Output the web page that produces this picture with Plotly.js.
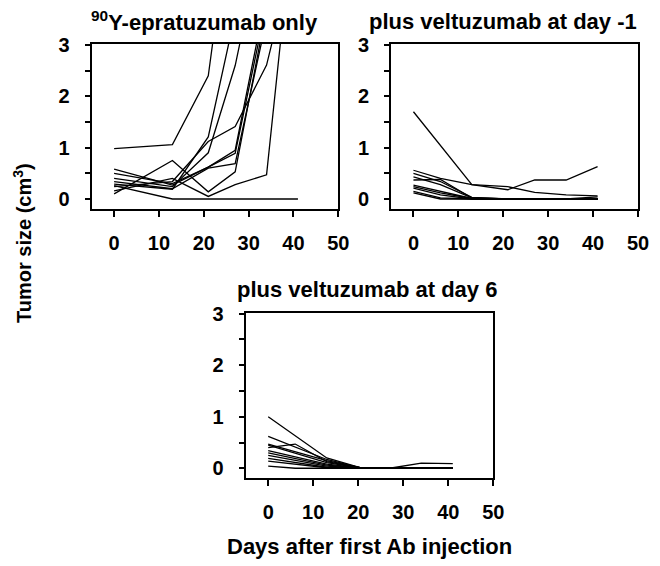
<!DOCTYPE html>
<html>
<head>
<meta charset="utf-8">
<script src="https://cdn.plot.ly/plotly-3.0.1.min.js"></script>
<style>html,body{margin:0;padding:0;background:#fff;}#chart{width:660px;height:566px;}</style>
</head>
<body>
<div id="chart"></div>
<script>
// ---- data ----
const panelTitles = ["<sup>90</sup>Y-epratuzumab only", "plus veltuzumab at day -1", "plus veltuzumab at day 6"];
const yAxisTitle = "Tumor size (cm<sup>3</sup>)";
const xAxisTitle = "Days after first Ab injection";
const xTickVals = [0, 10, 20, 30, 40, 50];
const yTickVals = [0, 1, 2, 3];
const yMinorTickVals = [0.5, 1.5, 2.5];

// days of measurement
const daysEpraOnly = [0, 13, 21, 27, 34, 41];
const daysVeltu = [0, 6, 13, 21, 27, 34, 41];

// tumor sizes (cm3) per mouse, 90Y-epratuzumab only
const epraOnly = [
  [0.98, 1.06, 2.40, 6.3, null, null],
  [0.29, 0.19, 1.21, 3.6, null, null],
  [0.40, 0.24, 0.90, 2.6, 5.5, null],
  [0.24, 0.34, 1.12, 1.41, 2.61, 5.1],
  [0.58, 0.27, 0.62, 0.89, 3.8, null],
  [0.34, 0.20, 0.60, 0.69, 3.5, null],
  [0.10, 0.75, 0.14, 0.53, 3.7, null],
  [0.16, 0.40, 0.05, 0.28, 0.47, 6.3],
  [0.26, 0.00, 0.00, 0.00, 0.00, 0.00],
  [0.50, 0.30, 0.62, 0.95, 4.0, null]
];

// plus veltuzumab at day -1
const veltuDayMinus1 = [
  [1.70, null, 0.28, 0.18, 0.37, 0.37, 0.63],
  [0.56, 0.40, 0.28, 0.24, 0.13, 0.08, 0.06],
  [0.50, 0.34, 0.03, 0, 0, 0, 0],
  [0.43, 0.28, 0.02, 0, 0, 0, 0.04],
  [0.37, 0.38, 0.02, 0, 0, 0, 0],
  [0.27, 0.15, 0.01, 0, 0, 0, 0],
  [0.24, 0.12, 0.01, 0, 0, 0, 0],
  [0.21, 0.08, 0.00, 0, 0, 0, 0],
  [0.15, 0.02, 0.00, 0, 0, 0, 0],
  [0.12, 0.00, 0.00, 0, 0, 0, 0]
];

// plus veltuzumab at day 6
const veltuDay6 = [
  [1.00, null, 0.20, 0, 0, 0, 0],
  [0.62, null, 0.17, 0, 0, 0.10, 0.09],
  [0.47, null, 0.15, 0, 0, 0, 0],
  [0.40, 0.47, 0.13, 0, 0, 0, 0],
  [0.45, null, 0.11, 0, 0, 0, 0],
  [0.34, null, 0.08, 0, 0, 0, 0],
  [0.30, null, 0.06, 0, 0, 0, 0],
  [0.25, null, 0.04, 0, 0, 0, 0],
  [0.19, null, 0.02, 0, 0, 0, 0],
  [0.14, null, 0.01, 0, 0, 0, 0],
  [0.04, 0.00, 0.00, 0, 0, 0, 0]
];

// ---- chart ----
const FONT = "Arial, 'Liberation Sans', Helvetica, sans-serif";
const W = 660, H = 566;
const traces = [];
function addPanel(days, series, xa, ya) {
  series.forEach(v => traces.push({
    x: days, y: v, xaxis: xa, yaxis: ya, type: 'scatter', mode: 'lines',
    connectgaps: true, line: {color: '#000', width: 1.3}, hoverinfo: 'skip', showlegend: false
  }));
}
addPanel(daysEpraOnly, epraOnly, 'x', 'y');
addPanel(daysVeltu, veltuDayMinus1, 'x2', 'y2');
addPanel(daysVeltu, veltuDay6, 'x3', 'y3');

function px2x(p) { return p / W; }
function px2y(p) { return 1 - p / H; }

const tickFont = {family: FONT, size: 20, weight: 'bold', color: '#000'};
function xAx(domain, anchor) {
  return {domain: domain, anchor: anchor, range: [-5, 50], tickvals: xTickVals,
    ticks: 'outside', ticklen: 6, tickwidth: 2, tickcolor: '#000',
    showline: true, linewidth: 2, linecolor: '#000', mirror: true,
    showgrid: false, zeroline: false, tickfont: tickFont, ticklabelstandoff: 9, fixedrange: true};
}
function yAx(domain, anchor) {
  return {domain: domain, anchor: anchor, range: [-0.195, 3.02], tickvals: yTickVals,
    ticks: 'outside', ticklen: 5, tickwidth: 2, tickcolor: '#000',
    minor: {tickvals: yMinorTickVals, ticks: 'outside', ticklen: 5, tickwidth: 2, tickcolor: '#000', showgrid: false},
    showline: true, linewidth: 2, linecolor: '#000', mirror: true,
    showgrid: false, zeroline: false, tickfont: tickFont, ticklabelstandoff: 11, fixedrange: true};
}

const layout = {
  width: W, height: H,
  margin: {l: 0, r: 0, t: 0, b: 0},
  paper_bgcolor: '#fff', plot_bgcolor: '#fff',
  showlegend: false,
  font: {family: FONT, color: '#000'},
  xaxis: xAx([px2x(91.7), px2x(338.3)], 'y'),
  yaxis: yAx([px2y(209), px2y(44)], 'x'),
  xaxis2: xAx([px2x(391), px2x(638)], 'y2'),
  yaxis2: yAx([px2y(209), px2y(44)], 'x2'),
  xaxis3: xAx([px2x(245.7), px2x(493.3)], 'y3'),
  yaxis3: yAx([px2y(478.3), px2y(312.7)], 'x3'),
  annotations: [
    {text: panelTitles[0], xref: 'paper', yref: 'paper', x: px2x(204), y: px2y(21), showarrow: false,
     xanchor: 'center', yanchor: 'middle', font: {family: FONT, size: 22, weight: 'bold', color: '#000'}},
    {text: panelTitles[1], xref: 'paper', yref: 'paper', x: px2x(503), y: px2y(21), showarrow: false,
     xanchor: 'center', yanchor: 'middle', font: {family: FONT, size: 22, weight: 'bold', color: '#000'}},
    {text: panelTitles[2], xref: 'paper', yref: 'paper', x: px2x(367), y: px2y(289), showarrow: false,
     xanchor: 'center', yanchor: 'middle', font: {family: FONT, size: 22, weight: 'bold', color: '#000'}},
    {text: yAxisTitle, xref: 'paper', yref: 'paper', x: px2x(23), y: px2y(243), showarrow: false, textangle: -90,
     xanchor: 'center', yanchor: 'middle', font: {family: FONT, size: 20, weight: 'bold', color: '#000'}},
    {text: xAxisTitle, xref: 'paper', yref: 'paper', x: px2x(369), y: px2y(546), showarrow: false,
     xanchor: 'center', yanchor: 'middle', font: {family: FONT, size: 22, weight: 'bold', color: '#000'}}
  ]
};

Plotly.newPlot('chart', traces, layout, {staticPlot: true, displayModeBar: false});
</script>
</body>
</html>
